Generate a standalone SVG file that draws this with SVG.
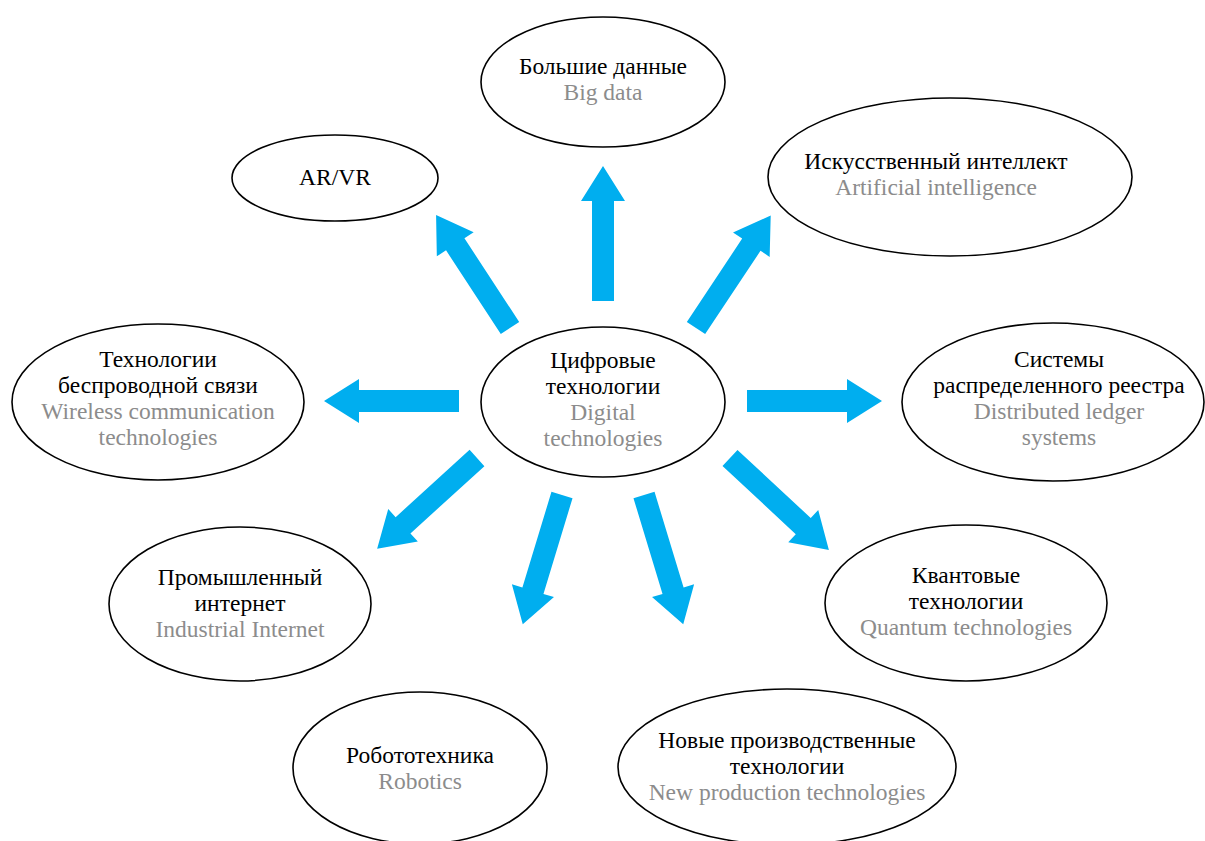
<svg xmlns="http://www.w3.org/2000/svg" width="1205" height="841" viewBox="0 0 1205 841">
<style>
.n{fill:#fff;stroke:#000;stroke-width:1.6}
.t{font-family:"Liberation Serif","Times New Roman",serif;font-size:23.5px;text-anchor:middle;fill:#000}
.g{fill:#8c8c8c}
.a{fill:#00aeef}
</style>
<defs>
<path id="arr" d="M0,-11 H100 V-22 L135,0 L100,22 V11 H0 Z"/>
</defs>
<rect width="1205" height="841" fill="#fff"/>
<g id="connectors" class="a">
<use href="#arr" transform="translate(603,301) rotate(-90)"/>
<use href="#arr" transform="translate(510,328) rotate(-123.2)"/>
<use href="#arr" transform="translate(696,328) rotate(-56.4)"/>
<use href="#arr" transform="translate(459,401) rotate(180)"/>
<use href="#arr" transform="translate(747,401)"/>
<use href="#arr" transform="translate(477,458) rotate(137.7)"/>
<use href="#arr" transform="translate(562,495) rotate(106.9)"/>
<use href="#arr" transform="translate(644,495) rotate(73.1)"/>
<use href="#arr" transform="translate(730,458) rotate(42.9)"/>
</g>
<g id="center">
<ellipse class="n" cx="603" cy="402" rx="122" ry="75"/>
<text class="t" x="603" y="368">Цифровые</text>
<text class="t" x="603" y="394">технологии</text>
<text class="t g" x="603" y="420">Digital</text>
<text class="t g" x="603" y="446">technologies</text>
</g>
<g id="bigdata">
<ellipse class="n" cx="603" cy="82" rx="122" ry="65"/>
<text class="t" x="603" y="74">Большие данные</text>
<text class="t g" x="603" y="100">Big data</text>
</g>
<g id="arvr">
<ellipse class="n" cx="335" cy="178" rx="103" ry="43"/>
<text class="t" x="335" y="185">AR/VR</text>
</g>
<g id="ai">
<ellipse class="n" cx="950" cy="177" rx="182" ry="79"/>
<text class="t" x="936" y="169">Искусственный интеллект</text>
<text class="t g" x="936" y="195">Artificial intelligence</text>
</g>
<g id="wireless">
<ellipse class="n" cx="158" cy="402" rx="146" ry="78"/>
<text class="t" x="158" y="367">Технологии</text>
<text class="t" x="158" y="393">беспроводной связи</text>
<text class="t g" x="158" y="419">Wireless communication</text>
<text class="t g" x="158" y="445">technologies</text>
</g>
<g id="ledger">
<ellipse class="n" cx="1053" cy="402" rx="151" ry="79"/>
<text class="t" x="1059" y="367">Системы</text>
<text class="t" x="1059" y="393">распределенного реестра</text>
<text class="t g" x="1059" y="419">Distributed ledger</text>
<text class="t g" x="1059" y="445">systems</text>
</g>
<g id="industrial">
<ellipse class="n" cx="240" cy="604" rx="131" ry="77"/>
<text class="t" x="240" y="585">Промышленный</text>
<text class="t" x="240" y="611">интернет</text>
<text class="t g" x="240" y="637">Industrial Internet</text>
</g>
<g id="quantum">
<ellipse class="n" cx="966" cy="603" rx="141" ry="78"/>
<text class="t" x="966" y="583">Квантовые</text>
<text class="t" x="966" y="609">технологии</text>
<text class="t g" x="966" y="635">Quantum technologies</text>
</g>
<g id="robotics">
<ellipse class="n" cx="420" cy="768" rx="127" ry="76"/>
<text class="t" x="420" y="763">Робототехника</text>
<text class="t g" x="420" y="789">Robotics</text>
</g>
<g id="newprod">
<ellipse class="n" cx="787" cy="767" rx="169" ry="78"/>
<text class="t" x="787" y="748">Новые производственные</text>
<text class="t" x="787" y="774">технологии</text>
<text class="t g" x="787" y="800">New production technologies</text>
</g>
</svg>
